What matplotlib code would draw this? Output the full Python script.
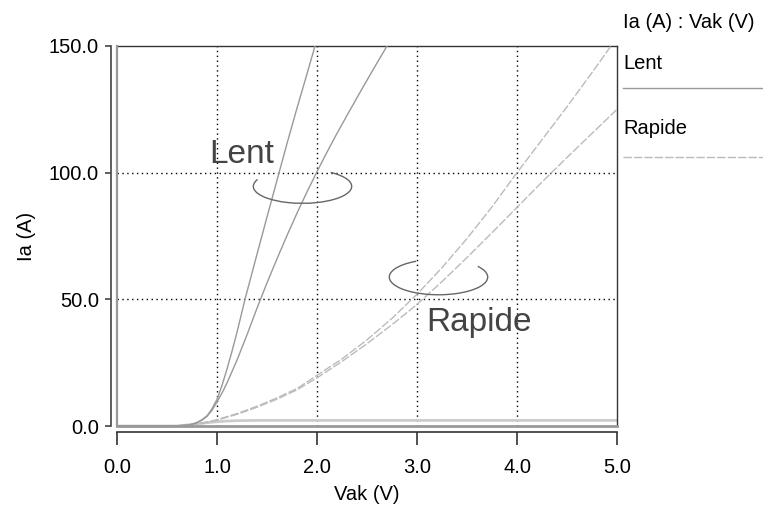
import numpy as np
import matplotlib
matplotlib.use("Agg")
import matplotlib.pyplot as plt
from matplotlib.patches import Arc
from matplotlib.lines import Line2D
from matplotlib.transforms import Affine2D

plt.rcParams['font.family'] = ['Liberation Sans', 'DejaVu Sans']

# Lent : two curves (steep and softer)
lent1_v = [0.0, 0.5, 0.6, 0.7, 0.75, 0.8, 0.85, 0.9, 0.95, 1.0, 1.05, 1.1, 1.15, 1.2,
           1.28, 1.4, 1.5, 1.6, 1.7, 1.8, 1.9, 1.98]
lent1_i = [0.0, 0.0, 0.05, 0.3, 0.7, 1.4, 2.5, 4.0, 6.8, 10.5, 16.0, 22.5, 29.5, 37.0,
           50.0, 67.8, 82.5, 97.0, 111.5, 125.5, 139.0, 150.0]
lent2_v = [0.0, 0.5, 0.6, 0.7, 0.75, 0.8, 0.85, 0.9, 0.95, 1.0, 1.05, 1.1, 1.15, 1.2,
           1.3, 1.4, 1.5, 1.6, 1.7, 1.8, 1.9, 2.0, 2.1, 2.2, 2.3, 2.4, 2.5, 2.6, 2.7]
lent2_i = [0.0, 0.0, 0.05, 0.3, 0.7, 1.3, 2.3, 3.8, 6.2, 9.5, 13.0, 17.0, 21.5, 26.0,
           36.0, 46.5, 56.5, 66.0, 75.2, 84.0, 92.4, 100.4, 108.1, 115.5, 122.6, 129.6,
           136.5, 143.3, 150.0]

# Rapide : two dashed curves
rap1_v = [0.0, 0.5, 0.7, 0.8, 0.9, 1.0, 1.2, 1.4, 1.6, 1.8, 2.0, 2.25, 2.5, 2.75, 3.0,
          3.25, 3.5, 3.75, 4.0, 4.25, 4.5, 4.75, 4.94]
rap1_i = [0.0, 0.0, 0.3, 0.8, 1.5, 2.5, 4.9, 7.8, 11.1, 14.8, 20.0, 26.5, 34.0, 42.5, 52.0,
          62.5, 74.0, 86.5, 100.0, 113.0, 126.0, 139.5, 150.0]
rap2_v = [0.0, 0.5, 0.7, 0.8, 0.9, 1.0, 1.2, 1.4, 1.6, 1.8, 2.0, 2.25, 2.5, 2.75, 3.0,
          3.25, 3.5, 3.75, 4.0, 4.25, 4.5, 4.75, 5.0]
rap2_i = [0.0, 0.0, 0.3, 0.8, 1.4, 2.3, 4.6, 7.4, 10.6, 14.3, 19.0, 25.5, 32.5, 40.0, 48.0,
          57.0, 66.5, 76.3, 86.3, 96.3, 106.0, 115.5, 125.0]

# low flat curve near 2 A
flat_v = [0.0, 0.6, 0.8, 0.9, 1.0, 1.1, 1.2, 1.4, 2.0, 3.0, 4.0, 5.0]
flat_i = [0.0, 0.0, 0.8, 1.3, 1.7, 1.95, 2.1, 2.2, 2.2, 2.2, 2.2, 2.2]

x_ticks = [0, 1, 2, 3, 4, 5]
y_ticks = [0, 50, 100, 150]

fig = plt.figure(figsize=(7.63, 5.12), dpi=100)
ax = fig.add_axes([117 / 763, 86 / 512, 500 / 763, 380 / 512])

ax.set_xlim(0, 5)
ax.set_ylim(0, 150)

# grid
for xv in [1, 2, 3, 4]:
    ax.axvline(xv, color='black', lw=1, linestyle=(0, (1, 2.5)), zorder=1)
for yv in [50, 100]:
    ax.axhline(yv, color='black', lw=1, linestyle=(0, (1, 2.5)), zorder=1)

ax.plot(flat_v, flat_i, color='#cccccc', lw=2, zorder=2)
ax.plot(rap1_v, rap1_i, color='#bbbbbb', lw=1, dashes=(6, 1.5), zorder=3)
ax.plot(rap2_v, rap2_i, color='#bbbbbb', lw=1, dashes=(6, 1.5), zorder=3)
ax.plot(lent1_v, lent1_i, color='#999999', lw=1, zorder=4)
ax.plot(lent2_v, lent2_i, color='#999999', lw=1, zorder=4)

# frame
ax.axvline(0, color='#999999', lw=1.6, clip_on=False, zorder=5)
ax.axhline(0, color='#999999', lw=2, clip_on=False, zorder=5)

# ellipses around each pair of curves
def ring(cx, cy, a, b, t1, t2):
    tr = Affine2D().scale(a, b).translate(cx, cy) + ax.transData
    ax.add_patch(Arc((0, 0), 2, 2, theta1=t1, theta2=t2, transform=tr,
                     color='#666666', lw=1, zorder=6))

ring(1.855, 94.6, 0.492, 6.7, 156, 55)
ring(3.215, 58.8, 0.492, 7.0, 117, 37)

ax.text(0.92, 103.8, 'Lent', fontsize=24, color='#444444', va='baseline', zorder=7)
ax.text(3.09, 37.5, 'Rapide', fontsize=24, color='#444444', va='baseline', zorder=7)

# axes / spines
for s in ['top', 'right']:
    ax.spines[s].set_color('#333333')
    ax.spines[s].set_linewidth(1)
ax.spines['left'].set_position(('outward', 4.3))
ax.spines['bottom'].set_position(('outward', 4.3))
ax.spines['left'].set_color('#444444')
ax.spines['bottom'].set_color('#333333')
ax.spines['left'].set_linewidth(1.2)
ax.spines['bottom'].set_linewidth(1.2)

ax.set_xticks(x_ticks)
ax.set_yticks(y_ticks)
ax.set_xticklabels(['%.1f' % v for v in x_ticks])
ax.set_yticklabels(['%.1f' % v for v in y_ticks])
ax.tick_params(axis='x', direction='out', length=9.4, width=1.2, color='#333333',
               pad=9, labelsize=14.5)
ax.tick_params(axis='y', direction='out', length=4.3, width=1.2, color='#444444',
               pad=4.3, labelsize=14.5)

ax.set_xlabel('Vak (V)', fontsize=14.5)
ax.set_ylabel('Ia (A)', fontsize=14.5)
ax.xaxis.set_label_coords(0.5, -0.155)
ax.yaxis.set_label_coords(-0.162, 0.5)

# legend drawn at the right
fig.text(623 / 763, 1 - 28 / 512, 'Ia (A) : Vak (V)', fontsize=14.5, va='baseline')
fig.text(623 / 763, 1 - 69 / 512, 'Lent', fontsize=14.5, va='baseline')
fig.text(623 / 763, 1 - 134 / 512, 'Rapide', fontsize=14.5, va='baseline')
fig.add_artist(Line2D([623 / 763, 1.0], [1 - 88 / 512] * 2, color='#999999', lw=1,
                      transform=fig.transFigure))
fig.add_artist(Line2D([623 / 763, 1.0], [1 - 157 / 512] * 2, color='#bbbbbb', lw=1,
                      dashes=(6, 1.5), transform=fig.transFigure))

fig.savefig('out.png', dpi=100)
